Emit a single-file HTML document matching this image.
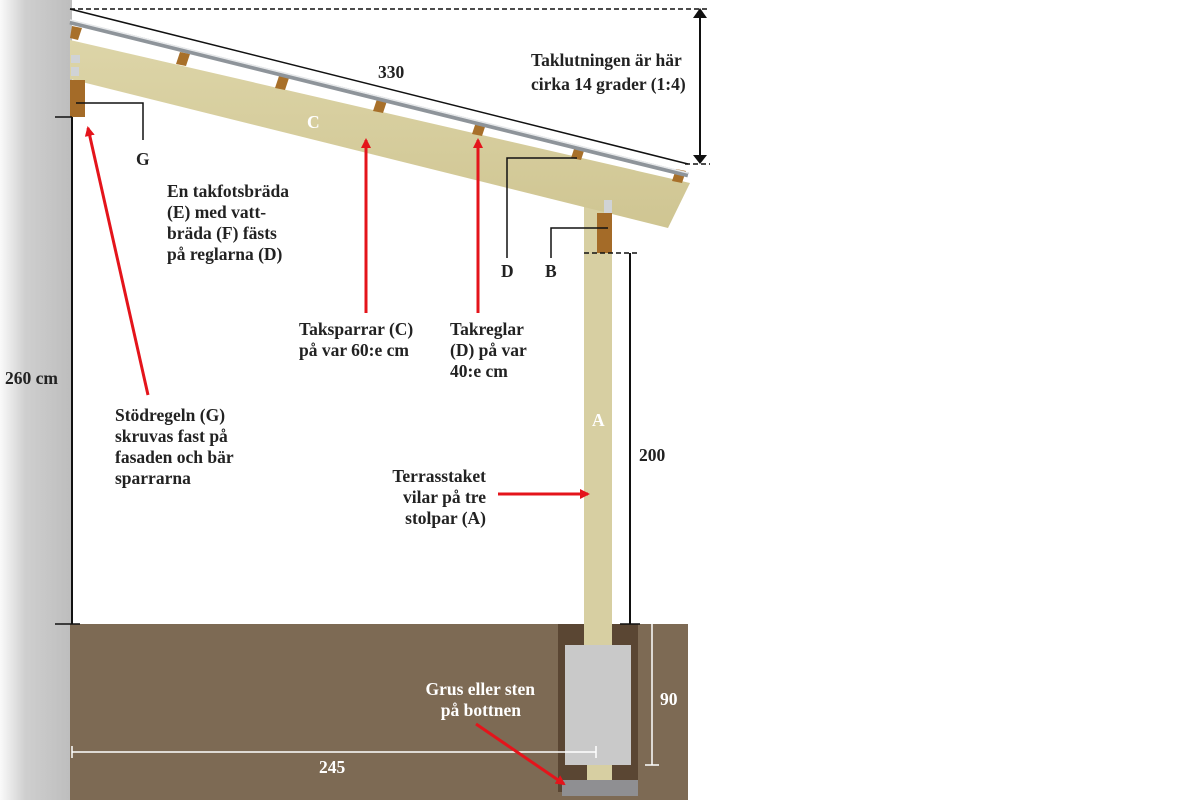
<!DOCTYPE html>
<html><head><meta charset="utf-8"><style>
html,body{margin:0;padding:0;background:#fff}
svg{display:block}
text{font-family:"Liberation Serif","DejaVu Serif",serif;font-weight:bold;font-size:17.5px;fill:#222}
.w{fill:#fff}
</style></head><body>
<svg width="1200" height="800" viewBox="0 0 1200 800" xmlns="http://www.w3.org/2000/svg">
<defs>
<linearGradient id="wall" x1="0" x2="1" y1="0" y2="0">
<stop offset="0" stop-color="#fafafa"/><stop offset="0.35" stop-color="#cfcfcf"/><stop offset="1" stop-color="#bdbdbd"/>
</linearGradient>
<linearGradient id="wood" x1="0" x2="0" y1="0" y2="1">
<stop offset="0" stop-color="#ddd5a8"/><stop offset="1" stop-color="#cfc592"/>
</linearGradient>
<linearGradient id="pipe" x1="0" x2="0" y1="0" y2="1">
<stop offset="0" stop-color="#e8eaec"/><stop offset="0.5" stop-color="#9aa0a6"/><stop offset="1" stop-color="#70767c"/>
</linearGradient>
<marker id="ar" markerWidth="10" markerHeight="10" refX="8" refY="5" orient="auto" markerUnits="userSpaceOnUse">
<path d="M0,0 L10,5 L0,10 z" fill="#e4141b"/></marker>
</defs>
<rect x="0" y="0" width="72" height="800" fill="url(#wall)"/>
<rect x="70" y="624" width="618" height="176" fill="#7d6a54"/>
<rect x="558" y="624" width="80" height="168" fill="#5a4633"/>
<rect x="565" y="645" width="66" height="120" fill="#c9c9c9"/>
<rect x="587" y="765" width="25" height="15" fill="#d7cfa2"/>
<rect x="562" y="780" width="76" height="16" fill="#8f8f92"/>
<!-- post -->
<rect x="584" y="205" width="28" height="440" fill="#d7cfa2"/>
<!-- rafter -->
<polygon points="70,40 690,183 668,228 70,79" fill="url(#wood)"/>
<g fill="#a8702a">
<polygon points="72,26 82,28 78,40 70,38"/>
<polygon points="180,52 190,54 186,66 176,64"/>
<polygon points="279,76 289,78 285,90 275,88"/>
<polygon points="377,99 387,101 383,113 373,111"/>
<polygon points="476,122 486,124 482,136 472,134"/>
<polygon points="575,146 585,148 581,160 571,158"/>
<polygon points="676,169 686,171 682,183 672,181"/>
</g>
<line x1="70" y1="22" x2="688" y2="175" stroke="#8e949a" stroke-width="5"/>
<line x1="70" y1="20" x2="688" y2="173" stroke="#e6e8ea" stroke-width="1.5"/>
<rect x="70" y="80" width="15" height="37" fill="#a46b28"/>
<rect x="71" y="55" width="9" height="8" fill="#d0d3d6"/>
<rect x="71" y="67" width="8" height="9" fill="#d0d3d6"/>
<rect x="597" y="213" width="15" height="40" fill="#a46b28"/>
<rect x="604" y="200" width="8" height="13" fill="#d0d3d6"/>
<g stroke="#111" fill="none">
<line x1="70" y1="9" x2="688" y2="164" stroke-width="1.5"/>
<line x1="70" y1="9" x2="710" y2="9" stroke-dasharray="5,3" stroke-width="1.5"/>
<line x1="685" y1="164" x2="710" y2="164" stroke-dasharray="5,3" stroke-width="1.5"/>
<line x1="700" y1="18" x2="700" y2="155" stroke-width="2"/>
<line x1="72" y1="117" x2="72" y2="624" stroke-width="2"/>
<line x1="55" y1="117" x2="72" y2="117" stroke-width="1.5"/>
<line x1="55" y1="624" x2="80" y2="624" stroke-width="1.5"/>
<line x1="630" y1="253" x2="630" y2="624" stroke-width="2"/>
<line x1="584" y1="253" x2="640" y2="253" stroke-dasharray="5,3" stroke-width="1.5"/>
<line x1="620" y1="624" x2="640" y2="624" stroke-width="1.5"/>
<polyline points="76,103 143,103 143,140" stroke-width="1.5"/>
<polyline points="577,158 507,158 507,258" stroke-width="1.5"/>
<polyline points="608,228 551,228 551,258" stroke-width="1.5"/>
</g>
<path d="M693,18 L700,8 L707,18 z M693,155 L700,164 L707,155 z" fill="#111"/>
<g stroke="#fff" fill="none" stroke-width="1.5">
<line x1="652" y1="624" x2="652" y2="765"/>
<line x1="645" y1="765" x2="659" y2="765"/>
<line x1="72" y1="752" x2="596" y2="752"/>
<line x1="72" y1="746" x2="72" y2="758"/>
<line x1="596" y1="746" x2="596" y2="758"/>
</g>
<g stroke="#e4141b" stroke-width="3" fill="none">
<line x1="148" y1="395" x2="88" y2="128" marker-end="url(#ar)"/>
<line x1="366" y1="313" x2="366" y2="140" marker-end="url(#ar)"/>
<line x1="478" y1="313" x2="478" y2="140" marker-end="url(#ar)"/>
<line x1="498" y1="494" x2="588" y2="494" marker-end="url(#ar)"/>
<line x1="476" y1="724" x2="564" y2="784" marker-end="url(#ar)"/>
</g>
<text x="378" y="78">330</text>
<text x="307" y="128" class="w">C</text>
<text x="531" y="66">Taklutningen är här</text>
<text x="531" y="90">cirka 14 grader (1:4)</text>
<text x="136" y="165">G</text>
<text x="167" y="197">En takfotsbräda</text>
<text x="167" y="218">(E) med vatt-</text>
<text x="167" y="239">bräda (F) fästs</text>
<text x="167" y="260">på reglarna (D)</text>
<text x="501" y="277">D</text>
<text x="545" y="277">B</text>
<text x="299" y="335">Taksparrar (C)</text>
<text x="299" y="356">på var 60:e cm</text>
<text x="450" y="335">Takreglar</text>
<text x="450" y="356">(D) på var</text>
<text x="450" y="377">40:e cm</text>
<text x="5" y="384">260 cm</text>
<text x="115" y="421">Stödregeln (G)</text>
<text x="115" y="442">skruvas fast på</text>
<text x="115" y="463">fasaden och bär</text>
<text x="115" y="484">sparrarna</text>
<text x="592" y="426" class="w">A</text>
<text x="639" y="461">200</text>
<text x="486" y="482" text-anchor="end">Terrasstaket</text>
<text x="486" y="503" text-anchor="end">vilar på tre</text>
<text x="486" y="524" text-anchor="end">stolpar (A)</text>
<text x="535" y="695" text-anchor="end" class="w">Grus eller sten</text>
<text x="521" y="716" text-anchor="end" class="w">på bottnen</text>
<text x="660" y="705" class="w">90</text>
<text x="319" y="773" class="w">245</text>
</svg>
</body></html>
